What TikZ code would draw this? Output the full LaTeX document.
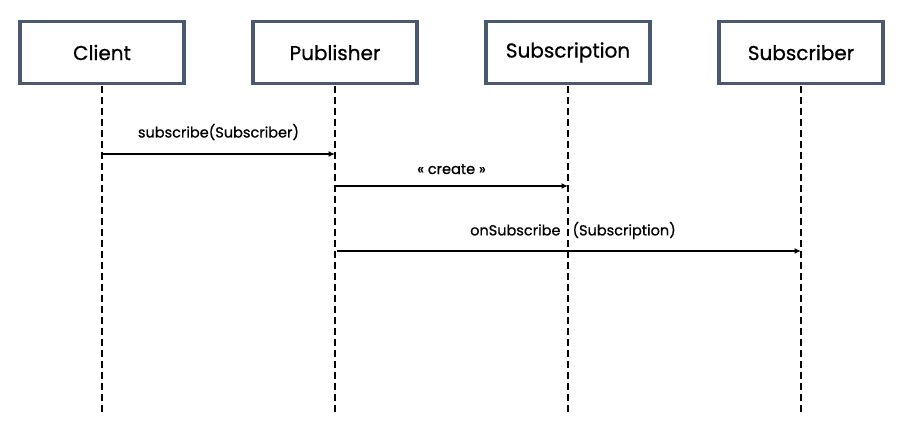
\documentclass[tikz,border=0pt]{standalone}
\usepackage{fontspec}
\setmainfont{Poppins}
\newfontfamily\heavyfont{Poppins}[FakeBold=0.8]
\usetikzlibrary{arrows.meta}
\definecolor{boxborder}{HTML}{4A5870}
\tikzset{
  actor/.style={draw=boxborder, line width=3.2pt, fill=white, minimum width=164pt, minimum height=62pt, inner sep=0pt, font=\heavyfont\fontsize{20}{24}\selectfont},
  lifeline/.style={line width=1.8pt, dash pattern=on 7pt off 4pt},
  msg/.style={line width=1.7pt, -{Latex[length=6.5pt,width=6pt]}},
  msglabel/.style={font=\heavyfont\fontsize{14.5}{17}\selectfont, inner sep=0pt}
}
\begin{document}
\begin{tikzpicture}[x=1pt,y=-1pt]
\useasboundingbox (0,0) rectangle (901,434);
% lifeline end points
\coordinate (ce) at (102,413);
\coordinate (pe) at (335,413);
\coordinate (se) at (568,413);
\coordinate (re) at (801,413);
% lifelines (drawn first, boxes above)
\draw[lifeline] (102,86) -- (ce);
\draw[lifeline] (335,86) -- (pe);
\draw[lifeline] (568,86) -- (se);
\draw[lifeline] (801,86) -- (re);
% actors
\node[actor] (client) at (102,52.5) {Client};
\node[actor] (pub) at (335,52.5) {Publisher};
\node[actor] (subn) at (568,52.5) {Subscription};
\node[actor] (subr) at (801,52.5) {Subscriber};
% message anchor coordinates on lifelines
\coordinate (c1) at (102,154);
\coordinate (p1) at (335,154);
\coordinate (p2) at (335,186);
\coordinate (s2) at (568,186);
\coordinate (p3) at (337,251);
\coordinate (r3) at (801,251);
\draw[msg] (c1) -- node[msglabel, above=13pt] (l1) {subscribe(Subscriber)} (p1);
\draw[msg] (p2) -- node[msglabel, above=11pt] (l2) {« create »} (s2);
\draw[msg] (p3) -- node[msglabel, above=11pt, xshift=4pt] (l3) {onSubscribe\hspace{12pt}(Subscription)} (r3);
\end{tikzpicture}
\end{document}
